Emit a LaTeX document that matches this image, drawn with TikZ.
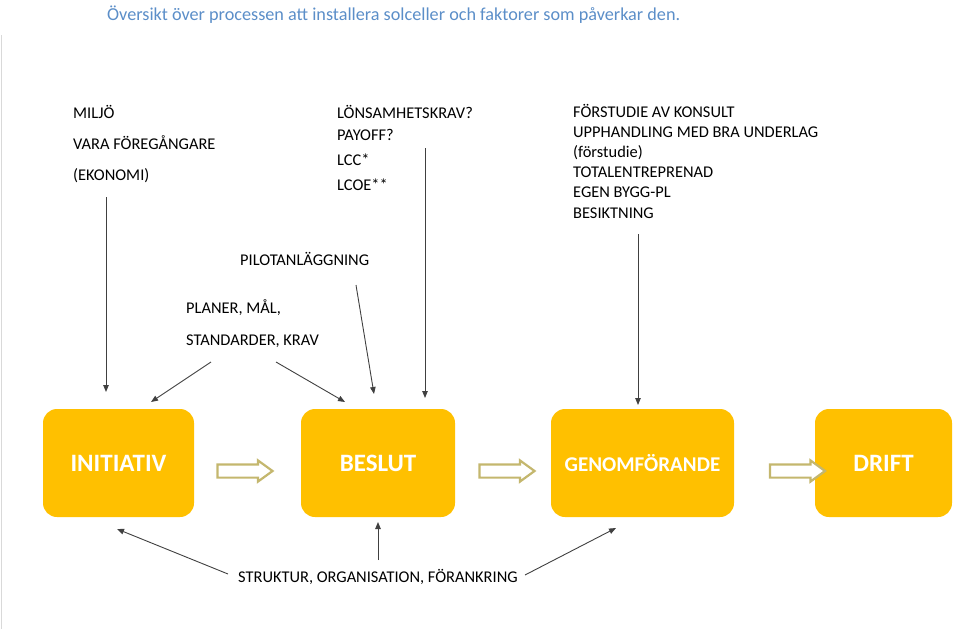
\documentclass[tikz,border=0pt]{standalone}
\usepackage{fontspec}
\setmainfont{Carlito}
\usepackage{xcolor}
\usetikzlibrary{arrows.meta,shapes.arrows}

\definecolor{guld}{HTML}{FFC000}
\definecolor{khaki}{RGB}{196,183,110}
\definecolor{rubrik}{RGB}{91,142,200}

\tikzset{
    stage/.style={fill=guld, rounded corners=14pt, text=white, font=\fontsize{25}{28}\selectfont\bfseries, inner sep=0pt},
    lab/.style={anchor=base west, inner sep=0pt, font=\fontsize{16.4}{19}\selectfont},
    pil/.style={-{Triangle[length=7pt,width=5.5pt]}, line width=0.9pt, black!75},
    hollow/.style={single arrow, draw=khaki, line width=2.2pt, fill=white, inner xsep=0pt, inner ysep=5.5pt,
        single arrow head extend=4pt, single arrow tip angle=72, minimum height=55pt, minimum width=18pt}
}

\begin{document}
\begin{tikzpicture}[x=1pt,y=-1pt]
    \useasboundingbox (0,0) rectangle (959,629);
    \draw[gray!30, line width=1pt] (1,35) -- (1,629);

    % rubrik
    \node[lab, text=rubrik, font=\fontsize{18.2}{22}\selectfont] (titel) at (107,20) {Översikt över processen att installera solceller och faktorer som påverkar den.};

    % faser
    \node[stage, minimum width=151pt, minimum height=108pt] (initiativ) at (118.5,463) {INITIATIV};
    \node[stage, minimum width=154pt, minimum height=108pt] (beslut) at (378,463) {BESLUT};
    \node[stage, minimum width=183pt, minimum height=108pt, font=\fontsize{21}{24}\selectfont\bfseries] (genomf) at (642.5,463) {GENOMFÖRANDE};
    \node[stage, minimum width=137pt, minimum height=108pt] (drift) at (883.5,463) {DRIFT};

    \node[hollow] (p1) at (240.5,471) {};
    \node[hollow] (p2) at (502.5,471) {};
    \node[hollow] (p3) at (793,471) {};

    % faktorer
    \node[lab] (miljo) at (73,118) {MILJÖ};
    \node[lab] (vara) at (73,149) {VARA FÖREGÅNGARE};
    \node[lab] (ekonomi) at (73,180) {(EKONOMI)};

    \node[lab] (lons) at (337,118) {LÖNSAMHETSKRAV?};
    \node[lab] (payoff) at (337,140) {PAYOFF?};
    \node[lab] (lcc) at (337,165) {LCC*};
    \node[lab] (lcoe) at (337,190) {LCOE**};

    \foreach \i/\txt in {0/FÖRSTUDIE AV KONSULT, 1/UPPHANDLING MED BRA UNDERLAG, 2/(förstudie), 3/TOTALENTREPRENAD, 4/EGEN BYGG-PL, 5/BESIKTNING}
        \node[lab] (fs\i) at (573,117+20.2*\i) {\txt};

    \node[lab] (pilot) at (240,265) {PILOTANLÄGGNING};
    \node[lab] (planer) at (186,313) {PLANER, MÅL,};
    \node[lab] (standard) at (186,345) {STANDARDER, KRAV};
    \node[lab] (struktur) at (238,582) {STRUKTUR, ORGANISATION, FÖRANKRING};

    % pilar
    \coordinate (a1) at (106,197);   \coordinate (b1) at (106,392);
    \coordinate (a2) at (211,362);   \coordinate (b2) at (151,402);
    \coordinate (a3) at (276,362);   \coordinate (b3) at (345,402);
    \coordinate (a4) at (356,285);   \coordinate (b4) at (374,394);
    \coordinate (a5) at (425,148);   \coordinate (b5) at (425,398);
    \coordinate (a6) at (638,234);   \coordinate (b6) at (638,405);
    \coordinate (a7) at (228,574);   \coordinate (b7) at (117,529);
    \coordinate (a8) at (378,560);   \coordinate (b8) at (378,522);
    \coordinate (a9) at (525,575);   \coordinate (b9) at (616,528);
    \foreach \k in {1,...,9}
        \draw[pil] (a\k) -- (b\k);
\end{tikzpicture}
\end{document}
